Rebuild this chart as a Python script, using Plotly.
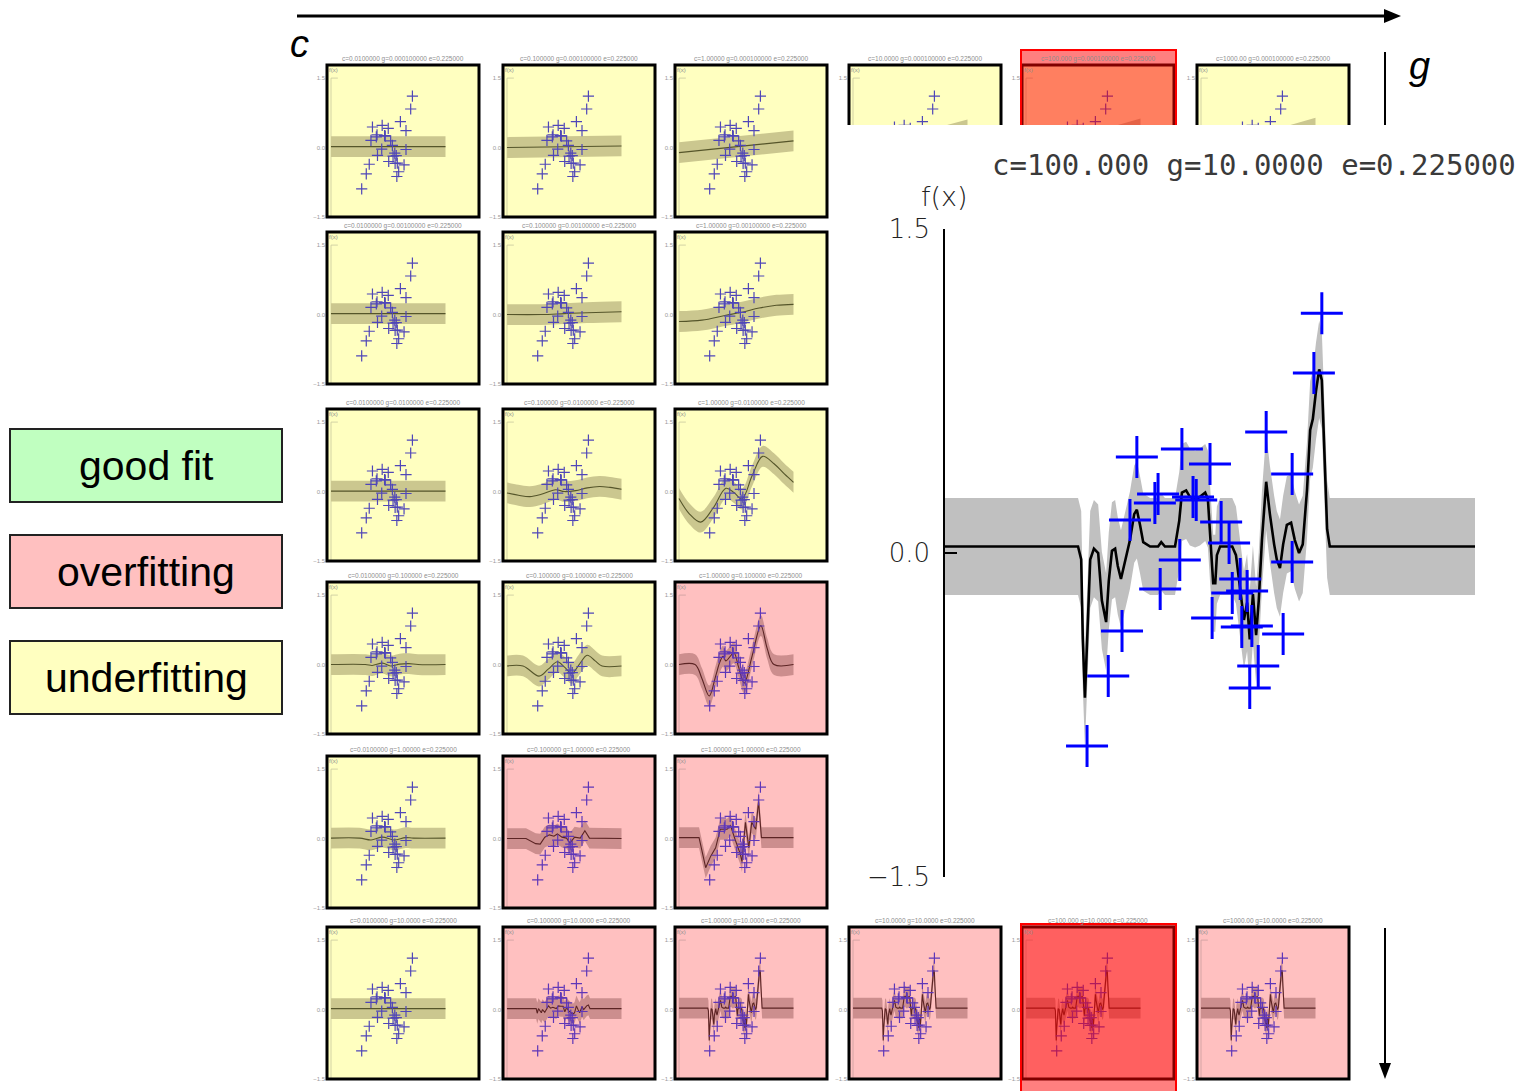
import plotly.graph_objects as go

W, H = 1532, 1091
EPS = 0.225

# parameter grid: columns are c, rows are g
C_LABELS = ["0.0100000", "0.100000", "1.00000", "10.0000", "100.000", "1000.00"]
G_LABELS = ["0.000100000", "0.00100000", "0.0100000", "0.100000", "1.00000", "10.0000"]
EPS_LABEL = "0.225000"

LEGEND_LABELS = ["good fit", "overfitting", "underfitting"]

# training samples
SAMPLE_X = [7.11, 6.96, 6.06, 3.62, 4.47, 5.00, 6.55, 4.02, 3.96, 4.68, 4.74, 3.49, 5.21, 5.36, 4.43,
            6.55, 4.06, 5.57, 5.42, 5.70, 5.04, 5.60, 5.79, 3.34, 6.38, 3.08, 5.91, 5.75, 2.68]
SAMPLE_Y = [1.11, 0.833, 0.56, 0.444, 0.481, 0.412, 0.366, 0.273, 0.231, 0.259, 0.245, 0.153, 0.144, 0.046, -0.032,
            -0.042, -0.167, -0.120, -0.185, -0.176, -0.301, -0.343, -0.338, -0.361, -0.375, -0.569, -0.523, -0.625, -0.894]

# regression function for c=100, g=10
BIG_FX = [0, 2.51, 2.57, 2.60, 2.64, 2.68, 2.74, 2.81, 2.89, 2.96,
          3.04, 3.09, 3.15, 3.21, 3.26, 3.32, 3.40, 3.49, 3.57, 3.62,
          3.68, 3.74, 3.87, 4.02, 4.08, 4.15, 4.34, 4.42, 4.47, 4.55,
          4.62, 4.72, 4.81, 4.91, 4.96, 5.02, 5.06, 5.10, 5.13, 5.19,
          5.42, 5.49, 5.57, 5.64, 5.70, 5.75, 5.81, 5.87, 5.92, 5.98,
          6.06, 6.13, 6.21, 6.26, 6.32, 6.38, 6.45, 6.53, 6.60, 6.68,
          6.75, 6.83, 6.89, 6.94, 7.00, 7.06, 7.11, 7.15, 7.21, 7.26, 10]
BIG_FY = [0.03, 0.03, -0.03, -0.40, -0.67, -0.40, -0.03, 0.02, 0.0, -0.22,
          -0.32, -0.13, 0.01, 0.02, -0.06, -0.12, -0.03, 0.06, 0.18, 0.20,
          0.13, 0.05, 0.03, 0.03, 0.05, 0.03, 0.03, 0.15, 0.28, 0.29,
          0.26, 0.25, 0.26, 0.28, 0.25, 0.04, -0.14, -0.14, -0.01, 0.03,
          0.03, -0.01, -0.17, -0.31, -0.23, -0.40, -0.19, -0.38, -0.22, 0.06,
          0.33, 0.18, 0.04, -0.03, -0.07, 0.04, 0.13, 0.14, 0.06, 0.0,
          0.04, 0.29, 0.57, 0.62, 0.75, 0.85, 0.80, 0.52, 0.11, 0.03, 0.03]

# g = 0.0001
R1C1_X, R1C1_Y = [0, 10], [0.02, 0.02]
R1C2_X, R1C2_Y = [0, 10], [0.0, 0.035]
R1C3_X, R1C3_Y = [0, 10], [-0.11, 0.145]
R1C4_X, R1C4_Y = [0, 10], [-0.28, 0.38]
R1C5_X, R1C5_Y = [0, 10], [-0.30, 0.40]
R1C6_X, R1C6_Y = [0, 10], [-0.30, 0.42]
# g = 0.001
R2C1_X, R2C1_Y = [0, 10], [0.02, 0.02]
R2C2_X, R2C2_Y = [0, 3, 5, 7, 10], [0.0, 0.0, 0.02, 0.04, 0.06]
R2C3_X, R2C3_Y = [0, 2, 4, 5.5, 7, 8.5, 10], [-0.15, -0.12, -0.02, 0.05, 0.14, 0.2, 0.22]
# g = 0.01
R3C1_X, R3C1_Y = [0, 10], [0.01, 0.01]
R3C2_X = [0, 1, 2, 3, 4.25, 5, 6, 7, 8.07, 9, 10]
R3C2_Y = [-0.03, -0.08, -0.11, -0.06, 0.04, 0.0, 0.02, 0.08, 0.11, 0.09, 0.05]
R3C3_X = [0, 0.9, 1.9, 3.0, 4.1, 4.8, 5.5, 6.4, 7.3, 8.3, 9.2, 10]
R3C3_Y = [-0.15, -0.48, -0.66, -0.35, 0.07, -0.02, -0.16, 0.35, 0.76, 0.6, 0.38, 0.2]
# g = 0.1
R4C1_X = [0, 3, 3.6, 4.5, 5.2, 6.0, 6.8, 7.6, 10]
R4C1_Y = [0.0, 0.0, -0.02, 0.03, -0.03, 0.01, 0.02, 0.0, 0.0]
R4C2_X = [0, 1.4, 2.8, 3.6, 4.4, 5.0, 5.66, 6.3, 7.0, 7.7, 8.3, 10]
R4C2_Y = [-0.03, -0.03, -0.25, -0.1, 0.06, -0.05, -0.19, 0.0, 0.2, 0.08, -0.03, -0.03]
R4C3_X = [0, 1.4, 2.0, 2.64, 3.2, 3.56, 3.85, 4.1, 4.79, 5.2, 5.7, 6.4, 7.15, 7.7, 8.3, 10]
R4C3_Y = [0.0, 0.0, -0.3, -0.68, -0.25, 0.05, 0.18, 0.08, 0.25, -0.05, -0.4, 0.2, 0.84, 0.35, 0.0, 0.0]
# g = 1
R5C1_X = [0, 2.5, 3.5, 4.5, 5.5, 6.5, 7.2, 10]
R5C1_Y = [0.01, 0.01, -0.03, 0.03, -0.03, 0.02, 0.01, 0.01]
R5C2_X = [0, 1.66, 2.5, 2.9, 3.3, 3.7, 4.1, 4.4, 4.8, 5.2, 5.5, 5.9, 6.4, 6.8, 7.2, 10]
R5C2_Y = [0.0, 0.0, -0.11, -0.12, 0.03, 0.08, 0.05, 0.10, 0.03, 0.01, -0.10, 0.03, 0.01, 0.17, 0.01, 0.0]
R5C3_X = [0, 1.75, 2.33, 2.77, 3.2, 3.6, 4.2, 4.5, 4.9, 5.35, 5.5, 5.8, 6.1, 6.35, 6.7, 6.95, 7.2, 10]
R5C3_Y = [0.02, 0.02, -0.63, -0.38, -0.2, 0.2, 0.2, 0.28, -0.02, -0.33, -0.5, 0.35, -0.2, 0.35, 0.2, 0.8, 0.02, 0.02]
# g = 10
R6C1_X, R6C1_Y = [0, 10], [0.02, 0.02]
R6C2_X = [0, 2.55, 2.64, 2.75, 3.0, 3.1, 3.3, 3.5, 3.62, 3.8, 4.0, 4.3, 4.5, 4.7, 4.9,
          5.05, 5.2, 5.4, 5.6, 5.75, 5.9, 6.06, 6.2, 6.35, 6.55, 6.7, 6.96, 7.11, 7.25, 10]
R6C2_Y = [0.02, 0.02, -0.08, 0.02, -0.07, 0.0, -0.06, 0.04, 0.08, 0.03, 0.05, 0.02, 0.08, 0.07, 0.07,
          -0.05, 0.04, -0.03, -0.08, -0.1, -0.07, 0.08, 0.0, -0.07, 0.06, 0.0, 0.08, 0.1, 0.02, 0.02]

# fit quality for each visible thumbnail
FIT_STATE = [
    ["under", "under", "under", "under", "under", "under"],
    ["under", "under", "under", None, None, None],
    ["under", "under", "under", None, None, None],
    ["under", "under", "over", None, None, None],
    ["under", "over", "over", None, None, None],
    ["under", "over", "over", "over", "over", "over"],
]

# (row, col) -> (x, f(x), smooth)
THUMB_FITS = {
    (0, 0): (R1C1_X, R1C1_Y, True), (0, 1): (R1C2_X, R1C2_Y, True), (0, 2): (R1C3_X, R1C3_Y, True),
    (0, 3): (R1C4_X, R1C4_Y, True), (0, 4): (R1C5_X, R1C5_Y, True), (0, 5): (R1C6_X, R1C6_Y, True),
    (1, 0): (R2C1_X, R2C1_Y, True), (1, 1): (R2C2_X, R2C2_Y, True), (1, 2): (R2C3_X, R2C3_Y, True),
    (2, 0): (R3C1_X, R3C1_Y, True), (2, 1): (R3C2_X, R3C2_Y, True), (2, 2): (R3C3_X, R3C3_Y, True),
    (3, 0): (R4C1_X, R4C1_Y, True), (3, 1): (R4C2_X, R4C2_Y, True), (3, 2): (R4C3_X, R4C3_Y, True),
    (4, 0): (R5C1_X, R5C1_Y, True), (4, 1): (R5C2_X, R5C2_Y, False), (4, 2): (R5C3_X, R5C3_Y, False),
    (5, 0): (R6C1_X, R6C1_Y, True), (5, 1): (R6C2_X, R6C2_Y, False), (5, 2): (BIG_FX, BIG_FY, False),
    (5, 3): (BIG_FX, BIG_FY, False), (5, 4): (BIG_FX, BIG_FY, False), (5, 5): (BIG_FX, BIG_FY, False),
}

STYLE = {
    "under": dict(bg="#ffffc0", band="#cbc78f", line="#55552a", pts="#4f46b8", axis="#c8c8a0"),
    "over": dict(bg="#ffc0c0", band="#cc8e8e", line="#5c2424", pts="#5e36b8", axis="#caa0a0"),
}
LEGEND_FILL = ["#c0ffc0", "#ffc0c0", "#ffffc0"]

# page geometry (pixels)
COL_LEFT = [327, 503, 675, 849, 1022, 1197]
ROW_TOP = [65, 232, 409, 582, 756, 927]
BOX = 152
SX, SY = 11.45, 46.3   # thumbnail px per unit
CUT_Y = 125            # top of the enlarged panel's white area
HILITE_COL = 4


def px(x):
    return x / W


def py(y):
    return 1 - y / H


traces, shapes, annotations = [], [], []
layout = dict(width=W, height=H, margin=dict(l=0, r=0, t=0, b=0, pad=0, autoexpand=False), autosize=False,
              paper_bgcolor="white", plot_bgcolor="rgba(0,0,0,0)", showlegend=False,
              font=dict(family="Liberation Sans, Arial, sans-serif"))
axis_count = [0]


def new_axes(xdom, ydom, xrng, yrng, yaxis_extra):
    axis_count[0] += 1
    n = axis_count[0]
    suffix = "" if n == 1 else str(n)
    layout["xaxis" + suffix] = dict(domain=xdom, range=xrng, visible=False, fixedrange=True,
                                    automargin=False, anchor="y" + suffix)
    yax = dict(domain=ydom, range=yrng, fixedrange=True, anchor="x" + suffix, automargin=False,
               showgrid=False, zeroline=False)
    yax.update(yaxis_extra)
    layout["yaxis" + suffix] = yax
    return "x" + suffix, "y" + suffix


def add_fit(xa, ya, fx, fy, smooth, band_color, line_color, line_w):
    shape = "spline" if smooth else "linear"
    lo = [v - EPS for v in fy]
    hi = [v + EPS for v in fy]
    traces.append(go.Scatter(x=fx, y=lo, mode="lines", line=dict(width=0, shape=shape),
                             xaxis=xa, yaxis=ya, hoverinfo="skip"))
    traces.append(go.Scatter(x=fx, y=hi, mode="lines", line=dict(width=0, shape=shape),
                             fill="tonexty", fillcolor=band_color, xaxis=xa, yaxis=ya, hoverinfo="skip"))
    traces.append(go.Scatter(x=fx, y=fy, mode="lines", line=dict(color=line_color, width=line_w, shape=shape),
                             xaxis=xa, yaxis=ya, hoverinfo="skip"))


# ---- thumbnails ----
for (r, c), (fx, fy, smooth) in THUMB_FITS.items():
    st = STYLE[FIT_STATE[r][c]]
    L, T = COL_LEFT[c], ROW_TOP[r]
    R = L + BOX
    partial = (r == 0 and c >= 3)
    B = CUT_Y if partial else T + BOX
    x0 = L + 4
    ytop = -1.5 + BOX / SY
    xa, ya = new_axes([px(L), px(R)], [py(B), py(T)],
                      [(L - x0) / SX, (R - x0) / SX], [ytop - (B - T) / SY, ytop],
                      dict(showline=False, ticks="", tickvals=[-1.5, 0, 1.5],
                           ticktext=["\u22121.5", "0.0", "1.5"], ticklabelstandoff=1,
                           tickfont=dict(size=6, color="#9a9a9a")))
    shapes.append(dict(type="rect", xref="paper", yref="paper", x0=px(L), x1=px(R), y0=py(B), y1=py(T),
                       fillcolor=st["bg"], line=dict(width=0), layer="below"))
    traces.append(go.Scatter(x=[0.6, 0, 0, 0.6], y=[1.5, 1.5, -1.5, -1.5], mode="lines",
                             line=dict(color=st["axis"], width=0.8), xaxis=xa, yaxis=ya, hoverinfo="skip"))
    add_fit(xa, ya, fx, fy, smooth, st["band"], st["line"], 1.1)
    traces.append(go.Scatter(x=SAMPLE_X, y=SAMPLE_Y, mode="markers",
                             marker=dict(symbol="cross-thin", size=8, line=dict(width=1.2, color=st["pts"])),
                             xaxis=xa, yaxis=ya, hoverinfo="skip"))
    # frame
    if partial:
        shapes.append(dict(type="path", xref="paper", yref="paper", layer="above",
                           path=f"M {px(L)},{py(B)} L {px(L)},{py(T)} L {px(R)},{py(T)} L {px(R)},{py(B)}",
                           line=dict(color="black", width=3)))
    else:
        shapes.append(dict(type="rect", xref="paper", yref="paper", x0=px(L), x1=px(R), y0=py(B), y1=py(T),
                           line=dict(color="black", width=3), layer="above"))
    annotations.append(dict(xref="paper", yref="paper", x=px(L + BOX / 2), y=py(T - 6),
                            text=f"c={C_LABELS[c]} g={G_LABELS[r]} e={EPS_LABEL}", showarrow=False,
                            font=dict(size=6.5, color="#8e8e8e"), xanchor="center", yanchor="middle"))
    annotations.append(dict(xref="paper", yref="paper", x=px(L + 6), y=py(T + 5), text="f(x)",
                            showarrow=False, font=dict(size=6, color="#8e8e8e"),
                            xanchor="center", yanchor="middle"))

# ---- enlarged panel (c=100, g=10) ----
BX0, BX1, BY0, BY1 = 945, 1475, 229, 877
xa, ya = new_axes([px(BX0), px(BX1)], [py(BY1), py(BY0)], [0, 10], [-1.5, 1.5],
                  dict(showline=True, linecolor="black", linewidth=1.5, ticks="inside", ticklen=12,
                       tickwidth=1.5, tickcolor="black", tickvals=[-1.5, 0, 1.5],
                       ticktext=["\u22121.5", "0.0", "1.5"], ticklabelstandoff=8,
                       tickfont=dict(size=26, color="#222222", family="DejaVu Sans", weight=200)))
add_fit(xa, ya, BIG_FX, BIG_FY, False, "#c0c0c0", "black", 2.6)
traces.append(go.Scatter(x=SAMPLE_X, y=SAMPLE_Y, mode="markers",
                         marker=dict(symbol="cross-thin", size=30, line=dict(width=3, color="#0000ff")),
                         xaxis=xa, yaxis=ya, hoverinfo="skip", cliponaxis=False))
annotations.append(dict(xref="paper", yref="paper", x=px(1254), y=py(165),
                        text=f"c={C_LABELS[4]} g={G_LABELS[5]} e={EPS_LABEL}", showarrow=False,
                        font=dict(size=29, color="#3a3a3a", family="DejaVu Sans Mono"),
                        xanchor="center", yanchor="middle"))
annotations.append(dict(xref="paper", yref="paper", x=px(944), y=py(197), text="f(x)", showarrow=False,
                        font=dict(size=27, color="#222222", family="DejaVu Sans", weight=200),
                        xanchor="center", yanchor="middle"))

# ---- highlight of the c=100 column ----
HL0, HL1 = COL_LEFT[HILITE_COL] - 1, COL_LEFT[HILITE_COL] + BOX + 2
shapes.append(dict(type="rect", xref="paper", yref="paper", x0=px(HL0), x1=px(HL1), y0=py(CUT_Y), y1=py(50),
                   fillcolor="rgba(255,0,0,0.5)", line=dict(width=0), layer="above"))
shapes.append(dict(type="path", xref="paper", yref="paper", layer="above",
                   path=f"M {px(HL0)},{py(CUT_Y)} L {px(HL0)},{py(50)} L {px(HL1)},{py(50)} L {px(HL1)},{py(CUT_Y)}",
                   line=dict(color="red", width=2)))
shapes.append(dict(type="rect", xref="paper", yref="paper", x0=px(HL0), x1=px(HL1), y0=py(H + 4), y1=py(924),
                   fillcolor="rgba(255,0,0,0.5)", line=dict(color="red", width=2), layer="above"))

# ---- c / g arrows ----
shapes.append(dict(type="line", xref="paper", yref="paper", x0=px(297), x1=px(1388), y0=py(16), y1=py(16),
                   line=dict(color="black", width=3)))
shapes.append(dict(type="path", xref="paper", yref="paper", fillcolor="black", line=dict(width=0),
                   path=f"M {px(1384)},{py(9)} L {px(1401)},{py(16)} L {px(1384)},{py(23)} Z"))
shapes.append(dict(type="line", xref="paper", yref="paper", x0=px(1385), x1=px(1385), y0=py(52), y1=py(CUT_Y),
                   line=dict(color="black", width=2)))
shapes.append(dict(type="line", xref="paper", yref="paper", x0=px(1385), x1=px(1385), y0=py(928), y1=py(1066),
                   line=dict(color="black", width=2)))
shapes.append(dict(type="path", xref="paper", yref="paper", fillcolor="black", line=dict(width=0),
                   path=f"M {px(1379)},{py(1063)} L {px(1385)},{py(1079)} L {px(1391)},{py(1063)} Z"))
annotations.append(dict(xref="paper", yref="paper", x=px(299), y=py(44), text="<i>c</i>", showarrow=False,
                        font=dict(size=38, color="black"), xanchor="center", yanchor="middle"))
annotations.append(dict(xref="paper", yref="paper", x=px(1419), y=py(66), text="<i>g</i>", showarrow=False,
                        font=dict(size=38, color="black"), xanchor="center", yanchor="middle"))

# ---- fit-quality key ----
KEY_TOPS = [429, 535, 641]
for label, fill, top in zip(LEGEND_LABELS, LEGEND_FILL, KEY_TOPS):
    shapes.append(dict(type="rect", xref="paper", yref="paper", x0=px(10), x1=px(282), y0=py(top + 73),
                       y1=py(top), fillcolor=fill, line=dict(color="#222222", width=2)))
    annotations.append(dict(xref="paper", yref="paper", x=px(146), y=py(top + 37), text=label,
                            showarrow=False, font=dict(size=41, color="black"),
                            xanchor="center", yanchor="middle"))

layout["shapes"] = shapes
layout["annotations"] = annotations
fig = go.Figure(data=traces, layout=layout)
fig.write_html("out.html")
